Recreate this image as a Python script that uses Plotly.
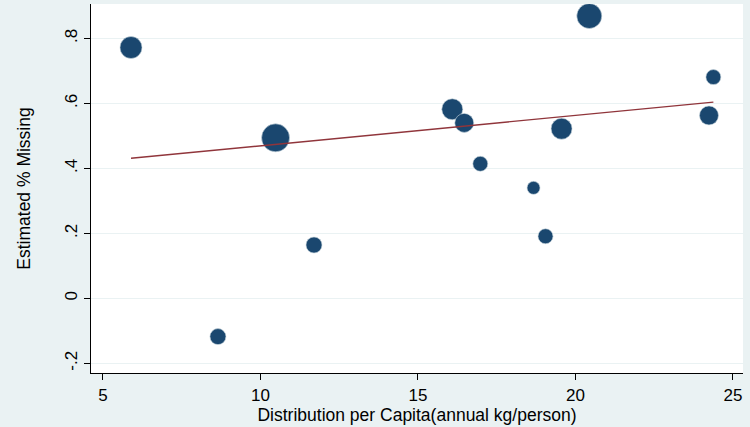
import plotly.graph_objects as go

# Data
dist_per_capita = [5.89, 8.65, 10.48, 11.70, 16.09, 16.47, 16.98, 18.67, 19.05, 19.56, 20.44, 24.24, 24.38]
pct_missing = [0.772, -0.118, 0.494, 0.164, 0.582, 0.540, 0.414, 0.340, 0.191, 0.522, 0.869, 0.563, 0.681]
weights = [22, 16, 28, 16, 21, 19, 15, 13, 15, 21, 25, 19, 15]

fit_x = [5.89, 24.38]
fit_y = [0.431, 0.604]

x_ticks = [5, 10, 15, 20, 25]
y_ticks = [-0.2, 0, 0.2, 0.4, 0.6, 0.8]
y_ticklabels = ["-.2", "0", ".2", ".4", ".6", ".8"]

BG = "#eaf2f3"
NAVY = "#1a476f"
MAROON = "#90353b"
FONT = "Liberation Sans, Arial, sans-serif"

fig = go.Figure()
fig.add_trace(go.Scatter(
    x=dist_per_capita, y=pct_missing, mode="markers",
    marker=dict(size=weights, color=NAVY, opacity=1,
                line=dict(width=0.6, color="#c9d6de")),
    showlegend=False,
))
fig.add_trace(go.Scatter(
    x=fit_x, y=fit_y, mode="lines",
    line=dict(color=MAROON, width=1.4),
    showlegend=False,
))

fig.update_layout(
    width=750, height=427,
    margin=dict(l=91, r=7, t=4, b=54),
    paper_bgcolor=BG, plot_bgcolor="white",
    font=dict(family=FONT, size=17, color="black"),
    xaxis=dict(
        range=[4.62, 25.32], tickvals=x_ticks, ticks="outside", ticklen=6,
        tickcolor="black", showline=True, linecolor="black", linewidth=1.2,
        showgrid=False, zeroline=False,
        title=dict(text="Distribution per Capita(annual kg/person)", standoff=0,
                   font=dict(size=17.5)),
        tickfont=dict(size=17),
    ),
    yaxis=dict(
        range=[-0.23, 0.906], tickvals=y_ticks, ticktext=y_ticklabels,
        tickangle=-90, ticks="outside", ticklen=6, tickcolor="black",
        showline=True, linecolor="black", linewidth=1.2,
        showgrid=True, gridcolor=BG, gridwidth=1, zeroline=False,
        title=dict(text="Estimated % Missing", standoff=26, font=dict(size=17.5)),
        tickfont=dict(size=17),
    ),
)

fig.write_html("out.html")
